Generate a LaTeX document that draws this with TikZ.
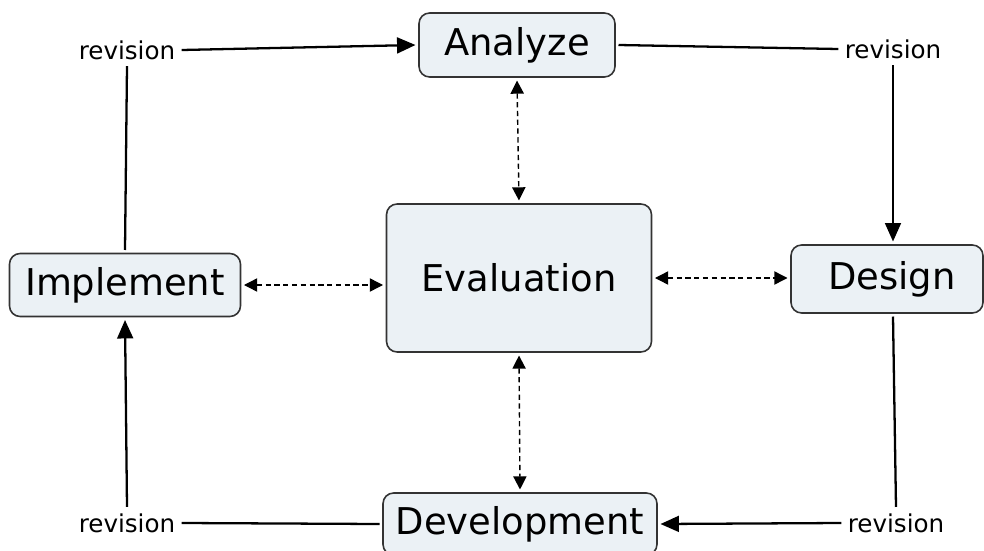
\documentclass[tikz,border=0pt]{standalone}
\usepackage{fontspec}
\setmainfont{DejaVu Sans}
\usetikzlibrary{arrows.meta}
\definecolor{boxfill}{HTML}{EBF1F5}
\definecolor{boxline}{HTML}{333333}
\tikzset{
  box/.style={draw=boxline, line width=0.9pt, fill=boxfill, rounded corners=6pt,
    font=\fontsize{21}{25}\selectfont, inner sep=0pt, outer sep=2pt},
  rev/.style={font=\fontsize{14}{16}\selectfont, inner sep=3.5pt},
  flow/.style={line width=1.3pt, -{Triangle[length=10.5pt,width=9pt]}},
  plain/.style={line width=1.3pt},
  eval/.style={line width=0.8pt, dashed, dash pattern=on 3pt off 2pt,
    {Triangle[length=7.5pt,width=7.5pt]}-{Triangle[length=7.5pt,width=7.5pt]}}
}
\begin{document}
\begin{tikzpicture}[x=0.02cm, y=-0.02cm]
\useasboundingbox (0,0) rectangle (984,551);
\clip (0,0) rectangle (984,551);
\fill[white] (0,0) rectangle (984,551);
% boxes
\node[box, minimum width=3.92cm, minimum height=1.28cm] (An) at (517,45) {Analyze};
\node[box, minimum width=4.62cm, minimum height=1.26cm] (Im) at (125,285) {Implement};
\node[box, minimum width=5.30cm, minimum height=2.96cm] (Ev) at (519,278) {Evaluation};
\node[box, minimum width=3.84cm, minimum height=1.36cm] (De) at (887,279) {\hspace*{0.2cm}Design};
\node[box, minimum width=5.48cm, minimum height=1.24cm] (Dv) at (520,524) {Development};
% revision labels
\node[rev] (rTL) at (127,50) {revision};
\node[rev] (rTR) at (893,49) {revision};
\node[rev] (rBL) at (127,523) {revision};
\node[rev] (rBR) at (896,523) {revision};
% solid cycle
\draw[flow] (rTL.east) -- (An.west);
\draw[plain] (An.east) -- (rTR.west);
\draw[flow] (rTR.south) -- (rTR.south |- De.north);
\draw[plain] (rTR.south |- De.south) -- (rBR.north);
\draw[flow] (rBR.west) -- (Dv.east);
\draw[plain] (Dv.west) -- (rBL.east);
\draw[flow] (rBL.north) -- (Im.south);
\draw[plain] (Im.north) -- (rTL.south);
% dashed evaluation links
\draw[eval] (An.south) -- (Ev.north);
\draw[eval] (Ev.south) -- (Dv.north);
\draw[eval] (Im.east) -- (Im.east -| Ev.west);
\draw[eval] (Ev.east) -- (Ev.east -| De.west);
\end{tikzpicture}
\end{document}
